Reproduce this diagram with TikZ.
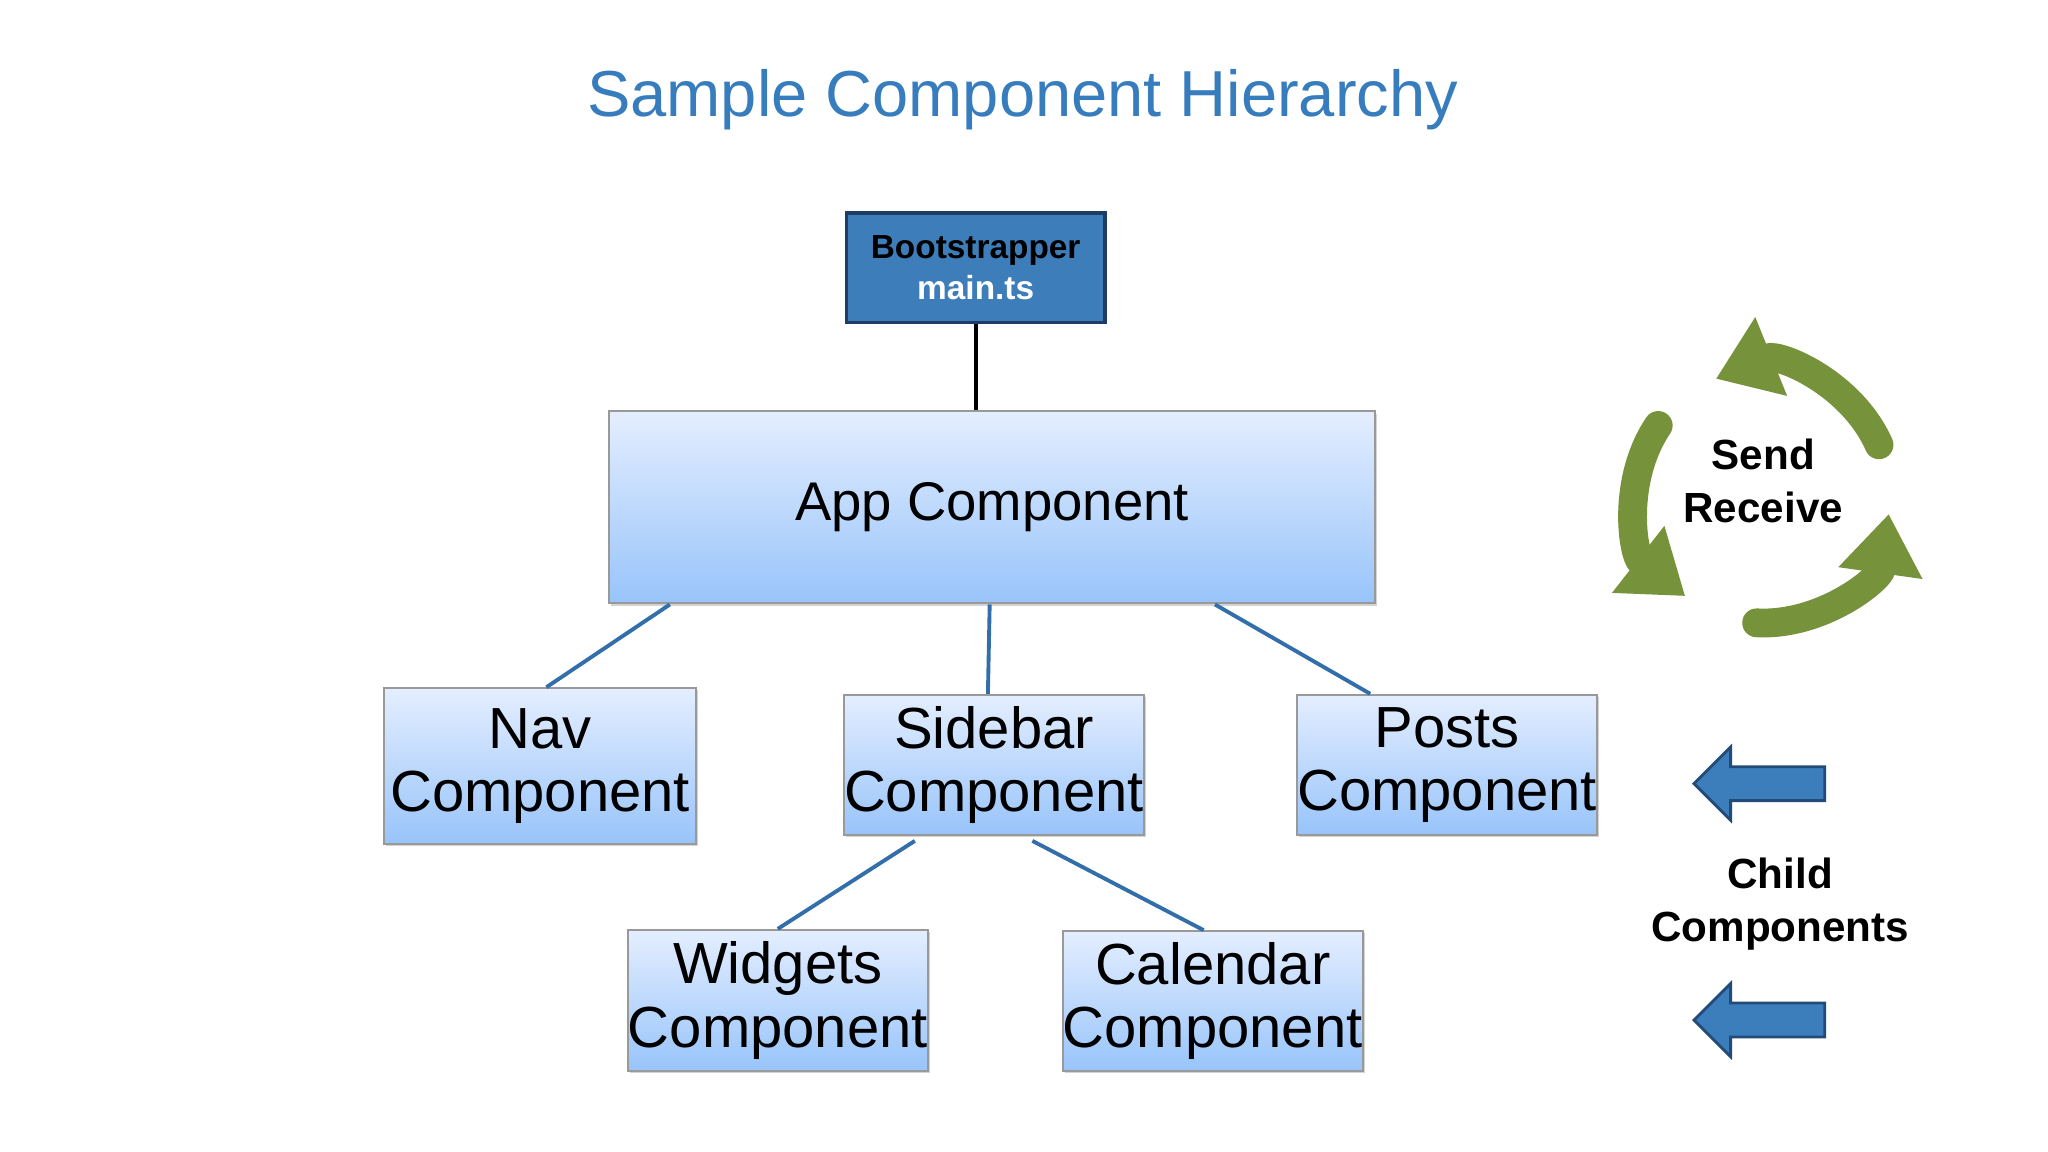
\documentclass[tikz,border=0pt]{standalone}
\usepackage{fontspec}
\setmainfont{Liberation Sans}
\usetikzlibrary{arrows.meta,calc,shadows}
\definecolor{titleblue}{RGB}{55,125,190}
\definecolor{bootblue}{RGB}{61,125,185}
\definecolor{bootedge}{RGB}{30,60,100}
\definecolor{boxtop}{RGB}{228,238,255}
\definecolor{boxbot}{RGB}{152,196,250}
\definecolor{linkblue}{RGB}{50,110,170}
\definecolor{cgreen}{RGB}{118,146,58}
\definecolor{arrblue}{RGB}{60,125,188}
\definecolor{arredge}{RGB}{35,75,120}
\tikzset{
  cbox/.style={draw=gray!80, line width=0.6pt, top color=boxtop, bottom color=boxbot,
    align=center, inner sep=0pt, font=\fontsize{16.5}{18}\selectfont,
    drop shadow={shadow xshift=0.6pt, shadow yshift=-0.6pt, opacity=0.35, fill=gray}},
  link/.style={draw=linkblue, line width=1.1pt},
  garrow/.style={draw=cgreen, line width=8.2pt, line cap=round, -{Triangle[width=23pt,length=17pt]}},
  barrow/.style={fill=arrblue, draw=arredge, line width=0.8pt},
  lbl/.style={font=\bfseries\fontsize{12}{14}\selectfont, align=center}
}
\begin{document}
\begin{tikzpicture}[x=0.01306cm,y=0.01306cm]
\useasboundingbox (0,0) rectangle (1568,882);
\node[text=titleblue, font=\fontsize{18.5}{20}\selectfont] (title) at (783,806) {Sample Component Hierarchy};
\node[draw=bootedge, line width=1pt, fill=bootblue, minimum width=198*0.01306cm, minimum height=84*0.01306cm, align=center, font=\bfseries\fontsize{9.5}{11.5}\selectfont] (boot) at (747,677) {Bootstrapper\\\textcolor{white}{main.ts}};
\node[cbox, minimum width=587*0.01306cm, minimum height=147*0.01306cm, font=\fontsize{15.5}{18}\selectfont] (app) at (759.5,493.5) {App Component};
\node[cbox, minimum width=239*0.01306cm, minimum height=119*0.01306cm] (nav) at (413.5,295.5) {Nav\\Component};
\node[cbox, minimum width=214*0.01306cm, minimum height=107*0.01306cm] (side) at (761,296.5) {Sidebar\\Component};
\node[cbox, minimum width=214*0.01306cm, minimum height=107*0.01306cm] (posts) at (1108,296.5) {Posts\\Component};
\node[cbox, minimum width=215*0.01306cm, minimum height=108*0.01306cm] (wid) at (595.5,116) {Widgets\\Component};
\node[cbox, minimum width=215*0.01306cm, minimum height=107*0.01306cm] (cal) at (928.5,115.5) {Calendar\\Component};
\draw[line width=1.1pt] (boot.south) -- (app.north -| boot.south);
\draw[link] ($(app.south west)!0.081!(app.south east)$) -- ($(nav.north west)!0.52!(nav.north east)$);
\draw[link] ($(app.south west)!0.497!(app.south east)$) -- ($(side.north west)!0.48!(side.north east)$);
\draw[link] ($(app.south west)!0.79!(app.south east)$) -- ($(posts.north west)!0.245!(posts.north east)$);
\draw[link] ($(side.south west)+(55,-4)$) -- ($(wid.north west)!0.5!(wid.north east)$);
\draw[link] ($(side.south west)+(145,-4)$) -- ($(cal.north west)!0.47!(cal.north east)$);
\coordinate (c) at (1350,502);
\draw[garrow] ([shift={(24:97)}]c) arc[start angle=24,end angle=112,radius=97];
\draw[garrow] ([shift={(146:97)}]c) arc[start angle=146,end angle=232,radius=97];
\draw[garrow] ([shift={(267:97)}]c) arc[start angle=267,end angle=352,radius=97];
\node[lbl, font=\bfseries\fontsize{12}{15}\selectfont] (sr) at (1350,514) {Send\\Receive};
\draw[barrow] (1297,282) -- (1325,310) -- (1325,295) -- (1397,295) -- (1397,269) -- (1325,269) -- (1325,254) -- cycle;
\draw[barrow] (1297,101) -- (1325,129) -- (1325,114) -- (1397,114) -- (1397,88) -- (1325,88) -- (1325,73) -- cycle;
\node[lbl, font=\bfseries\fontsize{12}{15}\selectfont] (child) at (1363,190) {Child\\Components};
\end{tikzpicture}
\end{document}
